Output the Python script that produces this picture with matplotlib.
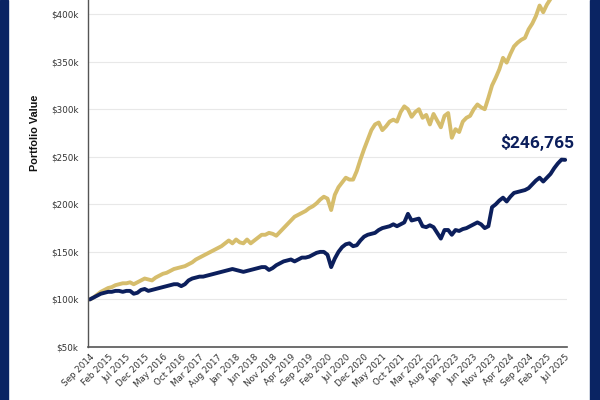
import matplotlib
matplotlib.use("Agg")
import matplotlib.pyplot as plt
from matplotlib.patches import Rectangle
from matplotlib.ticker import FuncFormatter
import pandas as pd

# monthly portfolio values in $k, Sep 2014 .. Jul 2025
months = pd.date_range("2014-09-01", "2025-07-01", freq="MS")

gold_values = [
    100, 102, 105, 108, 110, 112, 113, 115, 116, 117,
    117, 118, 116, 118, 120, 122, 121, 120, 123, 125,
    127, 128, 130, 132, 133, 134, 135, 137, 139, 142,
    144, 146, 148, 150, 152, 154, 156, 159, 162, 159,
    163, 160, 159, 163, 159, 162, 165, 168, 168, 170,
    169, 167, 171, 175, 179, 183, 187, 189, 191, 193,
    196, 198, 201, 205, 208, 206, 194, 210, 218, 223,
    228, 226, 226, 235, 247, 258, 268, 278, 284, 286,
    278, 282, 287, 289, 287, 297, 303, 300, 292, 297,
    300, 291, 294, 284, 295, 288, 281, 293, 296, 270,
    279, 276, 287, 291, 293, 300, 305, 302, 300, 312,
    325, 333, 342, 354, 349, 358, 366, 370, 373, 375,
    384, 390, 398, 409, 402, 410, 416, 422, 428, 434,
    440,
]

navy_values = [
    100, 102, 104, 106, 107, 108, 108, 109, 109, 108,
    109, 109, 106, 107, 110, 111, 109, 110, 111, 112,
    113, 114, 115, 116, 116, 114, 116, 120, 122, 123,
    124, 124, 125, 126, 127, 128, 129, 130, 131, 132,
    131, 130, 129, 130, 131, 132, 133, 134, 134, 131,
    133, 136, 138, 140, 141, 142, 140, 142, 144, 144,
    145, 147, 149, 150, 150, 147, 134, 143, 150, 155,
    158, 159, 156, 157, 162, 166, 168, 169, 170, 173,
    175, 176, 177, 179, 177, 179, 181, 190, 183, 184,
    185, 177, 176, 178, 176, 170, 164, 173, 173, 168,
    173, 172, 174, 175, 177, 179, 181, 179, 175, 177,
    197, 200, 204, 207, 203, 208, 212, 213, 214, 215,
    217, 221, 225, 228, 224, 228, 232, 238, 243, 247,
    246.765,
]

labels = [m.strftime("%b %Y") for m in months]

NAVY = "#0c1f5c"
GOLD = "#d6bd6c"
BORDER = "#0a2463"

fig = plt.figure(figsize=(6, 4), dpi=100)
fig.patch.set_facecolor("white")
fig.patches.append(Rectangle((0, 0), 8 / 600, 1, transform=fig.transFigure,
                             color=BORDER, zorder=0))
fig.patches.append(Rectangle((590 / 600, 0), 10 / 600, 1, transform=fig.transFigure,
                             color=BORDER, zorder=0))

# axes runs past the top of the picture, like the cropped original
ax = fig.add_axes([88 / 600, 53 / 400, 479 / 600, 428 / 400])

x = range(len(months))
ax.plot(x, gold_values, color=GOLD, lw=2.8, solid_joinstyle="round", solid_capstyle="round")
ax.plot(x, navy_values, color=NAVY, lw=2.8, solid_joinstyle="round", solid_capstyle="round")

ax.set_xlim(-0.5, len(months) - 0.5)
ax.set_ylim(50, 500)

# only the ticks that fall inside the visible picture
ax.set_yticks(range(50, 401, 50))
ax.yaxis.set_major_formatter(FuncFormatter(lambda v, p: f"${v:.0f}k"))
ax.set_xticks(list(x)[::5])
ax.set_xticklabels(labels[::5], rotation=45, ha="right", rotation_mode="anchor")

ax.tick_params(axis="both", length=0, labelsize=6.3, colors="#333333")
ax.tick_params(axis="y", pad=7)
ax.tick_params(axis="x", pad=4)

ax.grid(axis="y", color="#e8e8e8", lw=0.8)
ax.set_axisbelow(True)
for side in ["top", "right"]:
    ax.spines[side].set_visible(False)
ax.spines["left"].set_color("#555555")
ax.spines["bottom"].set_color("#555555")
ax.spines["left"].set_linewidth(1.0)
ax.spines["bottom"].set_linewidth(1.2)

ax.set_ylabel("Portfolio Value", fontsize=7.8, fontweight="bold",
              family="Liberation Sans", color="#111111")
ax.yaxis.set_label_coords(-0.1, 0.5)

last = navy_values[-1]
ax.text(122.3, 265, f"${last * 1000:,.0f}", color=NAVY, fontsize=12.5,
        fontweight="bold", family="Roboto", ha="center", va="center")

fig.savefig("out.png", dpi=100)
